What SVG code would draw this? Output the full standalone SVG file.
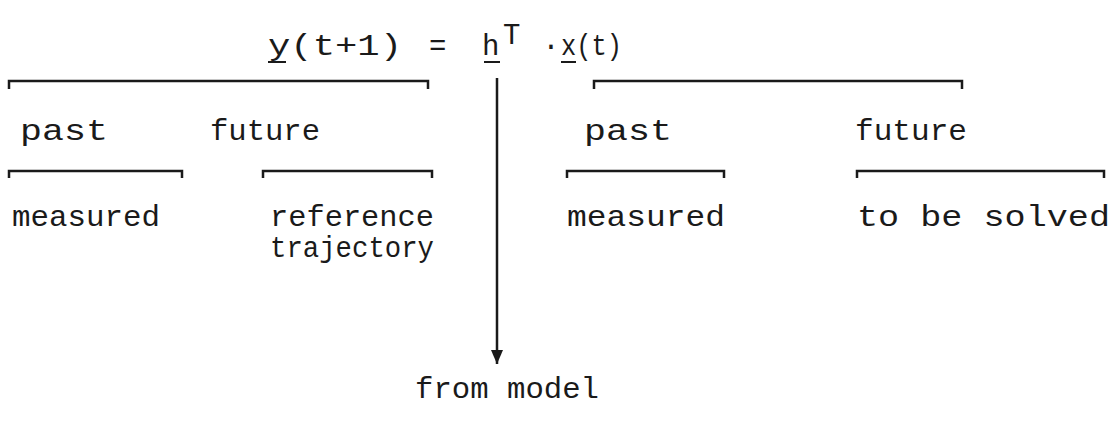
<svg xmlns="http://www.w3.org/2000/svg" width="1118" height="422" viewBox="0 0 1118 422">
<style>
text{font-family:"Liberation Mono","Courier New",monospace;font-size:29px;fill:#1a1a1a}
.br{fill:none;stroke:#1a1a1a;stroke-width:2.5}
.ul{stroke:#1a1a1a;stroke-width:2}
</style>
<defs>
<marker id="ad" markerWidth="12" markerHeight="14" refX="6" refY="14" orient="0" markerUnits="userSpaceOnUse">
<path d="M0,0 L12,0 L6,14 Z" fill="#1a1a1a"/>
</marker>
</defs>
<rect width="1118" height="422" fill="#fff"/>
<g id="equation">
<text x="268" y="55" textLength="134" lengthAdjust="spacingAndGlyphs">y(t+1)</text>
<text x="429" y="55">=</text>
<text x="482" y="55">h</text>
<text x="503" y="44" font-size="22">T</text>
<text x="551" y="55" font-size="18" text-anchor="middle">·</text>
<text x="561" y="55" textLength="61" lengthAdjust="spacingAndGlyphs">x(t)</text>
<line class="ul" x1="268" y1="62" x2="286" y2="62"/>
<line class="ul" x1="484" y1="62" x2="500" y2="62"/>
<line class="ul" x1="561" y1="62" x2="576" y2="62"/>
</g>
<g id="y-bracket"><path class="br" d="M9,89 V81 H428 V89"/></g>
<g id="x-bracket"><path class="br" d="M594,89 V81 H962 V89"/></g>
<g id="y-past">
<text x="20" y="140" textLength="88" lengthAdjust="spacingAndGlyphs">past</text>
<path class="br" d="M9,178 V171 H182 V178"/>
<text x="12" y="226" textLength="148" lengthAdjust="spacingAndGlyphs">measured</text>
</g>
<g id="y-future">
<text x="210" y="140" textLength="110" lengthAdjust="spacingAndGlyphs">future</text>
<path class="br" d="M263,178 V171 H432 V178"/>
<text x="270" y="226" textLength="164" lengthAdjust="spacingAndGlyphs">reference</text>
<text x="270" y="257" textLength="164" lengthAdjust="spacingAndGlyphs">trajectory</text>
</g>
<g id="x-past">
<text x="584" y="140" textLength="88" lengthAdjust="spacingAndGlyphs">past</text>
<path class="br" d="M567,178 V171 H724 V178"/>
<text x="567" y="226" textLength="158" lengthAdjust="spacingAndGlyphs">measured</text>
</g>
<g id="x-future">
<text x="855" y="140" textLength="112" lengthAdjust="spacingAndGlyphs">future</text>
<path class="br" d="M857,178 V171 H1104 V178"/>
<text x="857" y="226" textLength="253" lengthAdjust="spacingAndGlyphs">to be solved</text>
</g>
<g id="connectors">
<line x1="497" y1="78" x2="497" y2="364" stroke="#1a1a1a" stroke-width="2.5" marker-end="url(#ad)"/>
</g>
<g id="from-model">
<text x="415" y="398" textLength="184" lengthAdjust="spacingAndGlyphs">from model</text>
</g>
</svg>
